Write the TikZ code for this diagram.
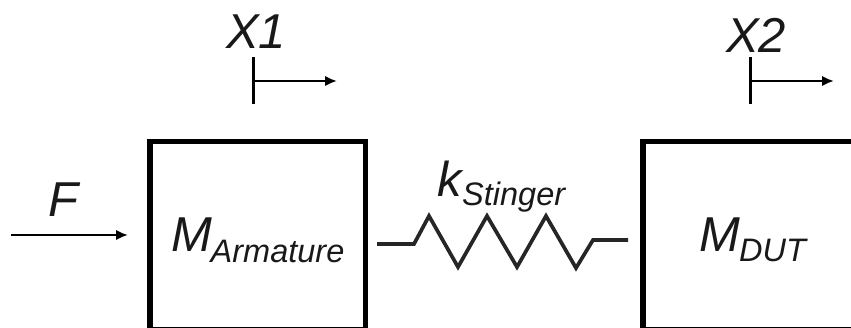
\documentclass[tikz,border=0pt]{standalone}
\usepackage{fontspec}
\setmainfont{Liberation Sans}
\usetikzlibrary{arrows.meta}
\tikzset{
  mass/.style={draw=black,line width=5.6pt,fill=none,inner sep=0pt,outer sep=0pt,minimum width=215.8pt,minimum height=188pt,anchor=north west},
  lab/.style={inner sep=0pt,anchor=base west,font=\itshape,text=black!90},
  arr/.style={line width=2.6pt,-{Latex[length=12pt,width=10.5pt]}},
  tick/.style={line width=3pt},
  spr/.style={line width=3.7pt,color=black!85,line join=miter}
}
\newcommand{\bigsz}{\fontsize{49}{49}\selectfont}
\newcommand{\subsz}{\fontsize{32.5}{32.5}\selectfont}
\begin{document}
\begin{tikzpicture}[x=1pt,y=-1pt]
\useasboundingbox (0,0) rectangle (851,328);
\begin{scope}
\clip (0,0) rectangle (851,328);
\node[mass] (m1) at (149.8,141.4) {};
\node[mass] (m2) at (642.9,141.4) {};
\end{scope}
% labels
\node[lab] (x1) at (226,49) {\bigsz X1};
\node[lab] (x2) at (726,52.7) {\bigsz X2};
\node[lab] (f) at (48,216.5) {\bigsz F};
\node[lab] (ma) at (171,252) {\bigsz M};
\node[lab] (masub) at (210.5,262.3) {\subsz Armature};
\node[lab] (md) at (699,252) {\bigsz M};
\node[lab] (mdsub) at (739,262) {\subsz DUT};
\node[lab] (k) at (437,197) {\bigsz k};
\node[lab] (ksub) at (462,205.7) {\subsz Stinger};
% displacement markers
\coordinate (t1a) at (253,57); \coordinate (t1b) at (253,104); \coordinate (t1c) at (253,81); \coordinate (t1d) at (337,81);
\coordinate (t2a) at (750,57); \coordinate (t2b) at (750,104); \coordinate (t2c) at (750,81); \coordinate (t2d) at (834,81);
\draw[tick] (t1a) -- (t1b);
\draw[arr] (t1c) -- (t1d);
\draw[tick] (t2a) -- (t2b);
\draw[arr] (t2c) -- (t2d);
% force
\coordinate (fa) at (11,235); \coordinate (fb) at (128,235);
\draw[arr] (fa) -- (fb);
% spring
\coordinate (s0) at (377,244); \coordinate (s9) at (628,240);
\draw[spr] (s0) -- (414,244) -- (429,216) -- (458,267) -- (487,216) -- (517,267) -- (546,216) -- (576,268) -- (593,240) -- (s9);
\end{tikzpicture}
\end{document}
